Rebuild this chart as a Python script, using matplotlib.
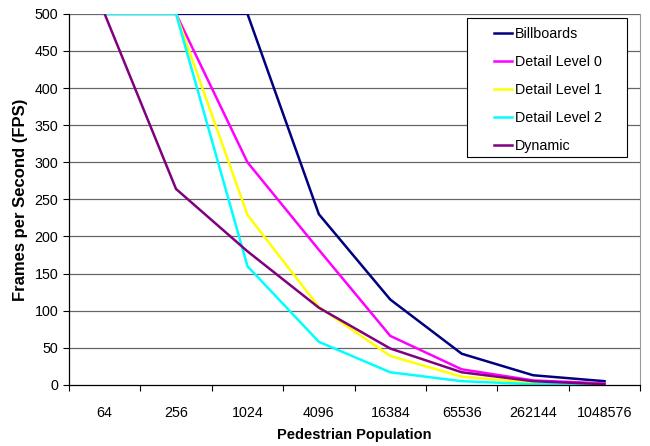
import matplotlib.pyplot as plt
from matplotlib.patches import Rectangle
import numpy as np

plt.rcParams['font.family'] = ['Liberation Sans', 'DejaVu Sans']

# Data
populations = ['64', '256', '1024', '4096', '16384', '65536', '262144', '1048576']
billboards = [500, 500, 500, 230, 115, 42, 13, 5]
detail0 = [500, 500, 300, 182, 66, 21, 6, 2]
detail1 = [500, 500, 229, 105, 39, 11, 3, 1]
detail2 = [500, 500, 160, 58, 17, 5, 1, 0.5]
dynamic = [500, 264, 180, 104, 49, 17, 5, 1]

series = [
    ('Billboards', billboards, '#000080'),
    ('Detail Level 0', detail0, '#FF00FF'),
    ('Detail Level 1', detail1, '#FFFF00'),
    ('Detail Level 2', detail2, '#00FFFF'),
    ('Dynamic', dynamic, '#800080'),
]

fig = plt.figure(figsize=(6.5, 4.46), dpi=100)
ax = fig.add_axes([0.106, 0.137, 0.879, 0.832])

x = np.arange(len(populations))
for name, vals, color in series:
    ax.plot(x, vals, color=color, lw=1.8, label=name, solid_joinstyle='miter')

ax.set_xlim(-0.5, len(populations) - 0.5)
ax.set_ylim(0, 500)
ax.set_yticks(np.arange(0, 501, 50))
ax.set_xticks(x)
ax.set_xticklabels(populations)
ax.set_xticks(np.arange(-0.5, len(populations)), minor=True)
ax.tick_params(axis='x', which='major', length=0, pad=15, labelsize=10.3)
ax.tick_params(axis='x', which='minor', length=4, width=0.8)
ax.tick_params(axis='y', length=4, width=0.8, labelsize=10.3)

for v in np.arange(50, 501, 50):
    ax.axhline(v, color='black', lw=0.9, alpha=0.6, zorder=0)

ax.spines['top'].set_visible(False)
ax.spines['right'].set_color('#999999')
ax.spines['left'].set_linewidth(0.9)
ax.spines['bottom'].set_linewidth(0.9)

ax.set_xlabel('Pedestrian Population', fontweight='bold', fontsize=10.5, labelpad=6)
ax.set_ylabel('Frames per Second (FPS)', fontweight='bold', fontsize=12, labelpad=5)

# legend box drawn separately so its padding can match the original
box = Rectangle((467 / 650, 1 - 157 / 446), 160 / 650, 139 / 446,
                transform=fig.transFigure, facecolor='white',
                edgecolor='black', lw=0.8, zorder=5, clip_on=False)
ax.add_patch(box)
leg = ax.legend(loc='upper left', bbox_to_anchor=(494 / 650, 1 - 27 / 446),
                bbox_transform=fig.transFigure, fontsize=10.3, frameon=False,
                handlelength=1.25, handletextpad=0.2, labelspacing=0.98,
                borderpad=0, borderaxespad=0)
leg.set_zorder(6)

fig.savefig('out.png', dpi=100)
